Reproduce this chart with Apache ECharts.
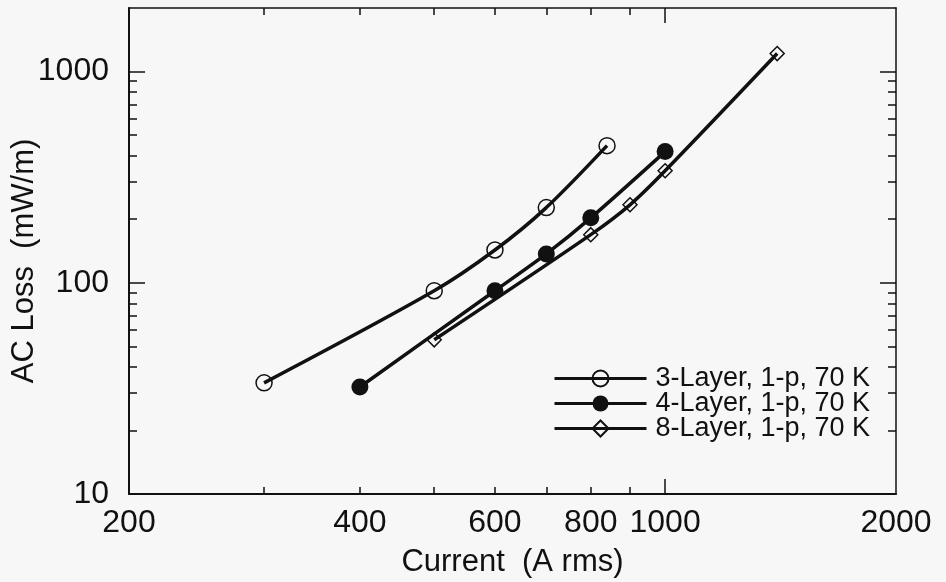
<!DOCTYPE html>
<html>
<head>
<meta charset="utf-8">
<title>AC Loss vs Current</title>
<script src="https://cdn.jsdelivr.net/npm/echarts@6/dist/echarts.min.js"></script>
<style>
  html, body { margin: 0; padding: 0; background: #f7f7f7; }
  #chart { width: 946px; height: 582px; }
</style>
</head>
<body>
<div id="chart"></div>
<script>
// data (log-log)
var current3 = [300, 500, 600, 700, 840];
var loss3 = [33.6, 91.7, 143, 227, 446];
var current4 = [400, 600, 700, 800, 1000];
var loss4 = [32.1, 91.7, 137, 203, 418];
var current8 = [500, 800, 900, 1000, 1400];
var loss8 = [53.7, 169, 234, 339, 1217];

var seriesNames = ['3-Layer, 1-p, 70 K', '4-Layer, 1-p, 70 K', '8-Layer, 1-p, 70 K'];

// tick labels and tick marks
var xLabels = [200, 400, 600, 800, 1000, 2000];
var xMajorTicks = [1000];
var xMinorTicks = [300, 400, 500, 600, 700, 800, 900];
var yLabels = [10, 100, 1000];
var yMajorTicks = [100, 1000];
var yMinorTicks = [20, 30, 40, 50, 60, 70, 80, 90, 200, 300, 400, 500, 600, 700, 800, 900];

var ink = '#111';
var font = "'Liberation Sans', Arial, Helvetica, sans-serif";

function pairs(xs, ys) {
  var out = [];
  for (var i = 0; i < xs.length; i++) out.push([xs[i], ys[i]]);
  return out;
}

// one axis per tick set / side
function xAx(pos, ticks, len, opts) {
  var a = {
    type: 'log', logBase: 10, min: 200, max: 2000, position: pos, gridIndex: 0,
    axisLine: { show: false },
    axisTick: { show: true, inside: true, length: len, customValues: ticks,
                lineStyle: { color: ink, width: 1.5 } },
    axisLabel: { show: false },
    splitLine: { show: false }
  };
  return Object.assign(a, opts || {});
}
function yAx(pos, ticks, len, opts) {
  var a = {
    type: 'log', logBase: 10, min: 10, max: 2000, position: pos, gridIndex: 0,
    axisLine: { show: false },
    axisTick: { show: true, inside: true, length: len, customValues: ticks,
                lineStyle: { color: ink, width: 1.5 } },
    axisLabel: { show: false },
    splitLine: { show: false }
  };
  return Object.assign(a, opts || {});
}

var chart = echarts.init(document.getElementById('chart'));

var option = {
  backgroundColor: '#f7f7f7',
  animation: false,
  textStyle: { fontFamily: font },
  grid: { left: 129, right: 50, top: 8, bottom: 88, containLabel: false, outerBoundsMode: 'none' },
  legend: {
    data: seriesNames,
    orient: 'vertical',
    left: 548,
    top: 360,
    itemWidth: 92,
    itemHeight: 20,
    itemGap: -2,
    lineStyle: { width: 3 },
    textStyle: { color: ink, fontSize: 27, fontFamily: font, padding: [0, 0, 0, 4] }
  },
  xAxis: [
    xAx('bottom', xMajorTicks, 15, {
      axisLine: { show: true, lineStyle: { color: ink, width: 2 } },
      axisLabel: { show: true, customValues: xLabels, margin: 13, color: ink, fontSize: 32,
                   fontFamily: font, formatter: function (v) { return String(Math.round(v)); } },
      name: 'Current  (A rms)',
      nameLocation: 'middle',
      nameGap: 53,
      nameMoveOverlap: false,
      nameTextStyle: { color: ink, fontSize: 31, fontFamily: font }
    }),
    xAx('bottom', xMinorTicks, 7),
    xAx('top', xMajorTicks, 15, { axisLine: { show: true, lineStyle: { color: ink, width: 1.5 } } }),
    xAx('top', xMinorTicks, 7)
  ],
  yAxis: [
    yAx('left', yMajorTicks, 16, {
      axisLine: { show: true, lineStyle: { color: ink, width: 2 } },
      axisLabel: { show: true, customValues: yLabels, margin: 20, color: ink, fontSize: 32,
                   fontFamily: font, formatter: function (v) { return String(Math.round(v)); } },
      name: 'AC Loss  (mW/m)',
      nameLocation: 'middle',
      nameGap: 89,
      nameMoveOverlap: false,
      nameTextStyle: { color: ink, fontSize: 31, fontFamily: font, padding: [0, 20, 0, 0] }
    }),
    yAx('left', yMinorTicks, 8),
    yAx('right', yMajorTicks, 16, { axisLine: { show: true, lineStyle: { color: ink, width: 1.5 } } }),
    yAx('right', yMinorTicks, 8)
  ],
  series: [
    {
      name: seriesNames[0],
      type: 'line',
      smooth: 0.3,
      data: pairs(current3, loss3),
      symbol: 'circle',
      symbolSize: 16,
      lineStyle: { color: ink, width: 3.5 },
      itemStyle: { color: 'rgba(0,0,0,0)', borderColor: ink, borderWidth: 1.5 }
    },
    {
      name: seriesNames[1],
      type: 'line',
      smooth: 0.3,
      data: pairs(current4, loss4),
      symbol: 'circle',
      symbolSize: 17,
      lineStyle: { color: ink, width: 3.5 },
      itemStyle: { color: ink, borderColor: ink, borderWidth: 0 }
    },
    {
      name: seriesNames[2],
      type: 'line',
      smooth: 0.3,
      data: pairs(current8, loss8),
      symbol: 'diamond',
      symbolSize: 14,
      lineStyle: { color: ink, width: 3.5 },
      itemStyle: { color: 'rgba(0,0,0,0)', borderColor: ink, borderWidth: 1.5 }
    }
  ]
};

chart.setOption(option);
</script>
</body>
</html>
